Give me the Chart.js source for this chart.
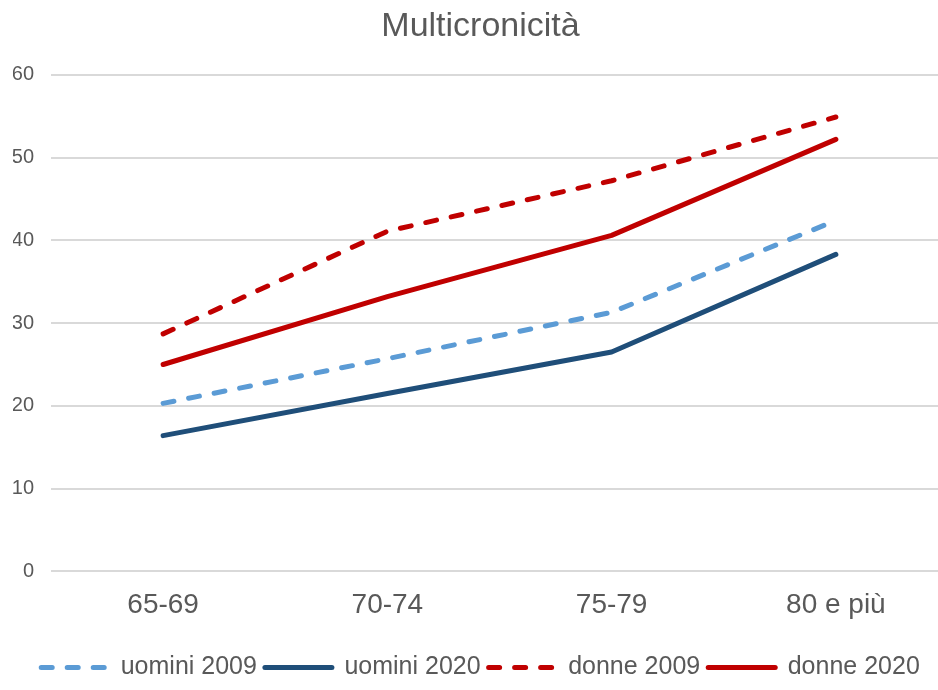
<!DOCTYPE html>
<html lang="it">
<head>
  <meta charset="UTF-8" />
  <title>Multicronicità</title>
  <script src="https://cdn.jsdelivr.net/npm/chart.js"></script>
  <style>
    html, body { margin: 0; padding: 0; background: #fff; overflow: hidden; }
    #wrap { width: 938px; height: 690px; overflow: hidden; }
  </style>
</head>
<body>
  <div id="wrap">
    <canvas id="chart" width="966" height="690"></canvas>
  </div>

  <script>
    // data
    const categories = ['65-69', '70-74', '75-79', '80 e più'];
    const uomini2009 = [20.3, 25.7, 31.3, 42.4];
    const uomini2020 = [16.4, 21.5, 26.5, 38.3];
    const donne2009 = [28.7, 41.1, 47.2, 54.9];
    const donne2020 = [25.0, 33.2, 40.6, 52.2];
    const yTicks = [0, 10, 20, 30, 40, 50, 60];

    const grey = '#595959';
    const font = "'Liberation Sans', Arial, sans-serif";

    function line(label, data, color, dashed) {
      return {
        label,
        data,
        borderColor: color,
        backgroundColor: color,
        borderWidth: 5,
        borderDash: dashed ? [11, 15] : [],
        borderCapStyle: 'round',
        borderJoinStyle: 'round',
        pointRadius: 0,
        tension: 0,
        fill: false
      };
    }

    // legend samples as line pieces, dashed like their series
    function legendLabels(chart) {
      return Chart.defaults.plugins.legend.labels.generateLabels(chart).map(item => {
        const ds = chart.data.datasets[item.datasetIndex];
        item.strokeStyle = ds.borderColor;
        item.fillStyle = ds.borderColor;
        item.lineWidth = 5;
        item.lineDash = ds.borderDash;
        item.lineCap = 'round';
        item.pointStyle = 'line';
        return item;
      });
    }

    new Chart(document.getElementById('chart'), {
      type: 'line',
      data: {
        labels: categories,
        datasets: [
          line('uomini 2009', uomini2009, '#5b9bd5', true),
          line('uomini 2020', uomini2020, '#1f4e79', false),
          line('donne 2009', donne2009, '#c00000', true),
          line('donne 2020', donne2020, '#c00000', false)
        ]
      },
      options: {
        responsive: false,
        animation: false,
        layout: { padding: { left: 13, right: 18, bottom: 0 } },
        plugins: {
          title: {
            display: true,
            text: 'Multicronicità',
            color: grey,
            font: { family: font, size: 34, weight: 'normal' },
            padding: { top: 6, bottom: 28 }
          },
          legend: {
            position: 'bottom',
            labels: {
              color: grey,
              font: { family: font, size: 25 },
              usePointStyle: true,
              pointStyle: 'line',
              pointStyleWidth: 67,
              padding: 8,
              generateLabels: legendLabels
            }
          },
          tooltip: { enabled: false }
        },
        scales: {
          x: {
            offset: true,
            grid: { display: false, drawTicks: false },
            border: { display: false },
            ticks: {
              color: grey,
              font: { family: font, size: 28 },
              padding: 17
            },
            afterFit: s => {
              s.paddingLeft = 0;
              s.paddingRight = 0;
              s.height += 8;
            }
          },
          y: {
            min: 0,
            max: 60,
            afterBuildTicks: axis => { axis.ticks = yTicks.map(v => ({ value: v })); },
            afterFit: s => { s.width = 38; },
            grid: { color: '#d9d9d9', lineWidth: 2, drawTicks: false },
            border: { display: false },
            ticks: {
              color: grey,
              font: { family: font, size: 20 },
              padding: 17
            }
          }
        }
      }
    });
  </script>
</body>
</html>
